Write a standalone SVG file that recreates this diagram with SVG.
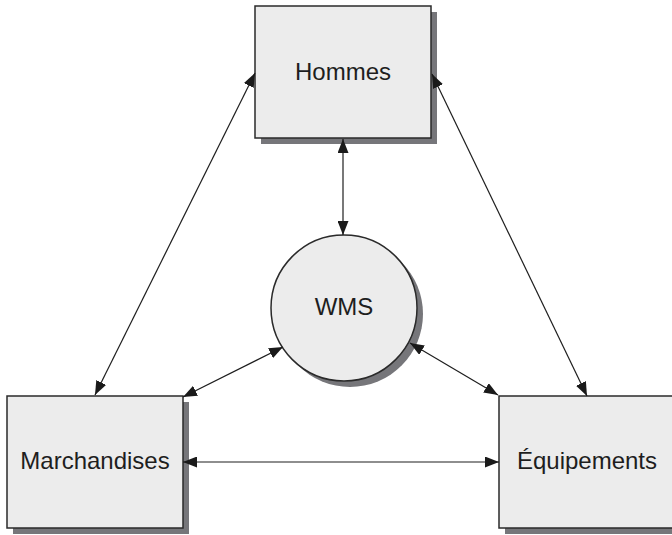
<svg xmlns="http://www.w3.org/2000/svg" width="672" height="535" viewBox="0 0 672 535">
<style>
.shadow{fill:#76767a;stroke:none}
.box{fill:#ececec;stroke:#2a2a2a;stroke-width:1.5}
.lbl{font-family:"Liberation Sans",Arial,sans-serif;font-size:24px;fill:#1e1e1e;text-anchor:middle}
.conn{stroke:#1e1e1e;stroke-width:1.2;fill:none;marker-start:url(#ah);marker-end:url(#ah)}
</style>
<defs>
<marker id="ah" markerUnits="userSpaceOnUse" markerWidth="15" markerHeight="11" refX="14" refY="5.5" orient="auto-start-reverse">
<path d="M0,0 L14,5.5 L0,11 z" fill="#1a1a1a"/>
</marker>
</defs>
<rect width="672" height="535" fill="#ffffff"/>
<g id="hommes">
<rect class="shadow" x="261" y="12" width="176" height="132"/>
<rect class="box" x="255" y="6" width="176" height="132"/>
<text class="lbl" x="343" y="80">Hommes</text>
</g>
<g id="wms">
<circle class="shadow" cx="350" cy="314" r="73"/>
<circle class="box" cx="344" cy="308" r="73"/>
<text class="lbl" x="344" y="315">WMS</text>
</g>
<g id="marchandises">
<rect class="shadow" x="13" y="402" width="176" height="132"/>
<rect class="box" x="7" y="396" width="176" height="132"/>
<text class="lbl" x="95" y="469">Marchandises</text>
</g>
<g id="equipements">
<rect class="shadow" x="505" y="402" width="176" height="132"/>
<rect class="box" x="499" y="396" width="176" height="132"/>
<text class="lbl" x="587" y="469">Équipements</text>
</g>
<g id="connectors">
<line class="conn" x1="255" y1="73" x2="95" y2="395"/>
<line class="conn" x1="432" y1="74" x2="587" y2="396"/>
<line class="conn" x1="343" y1="139" x2="343" y2="235"/>
<line class="conn" x1="283" y1="347" x2="183" y2="397"/>
<line class="conn" x1="410" y1="343" x2="498" y2="395"/>
<line class="conn" x1="183" y1="462" x2="499" y2="462"/>
</g>
</svg>
